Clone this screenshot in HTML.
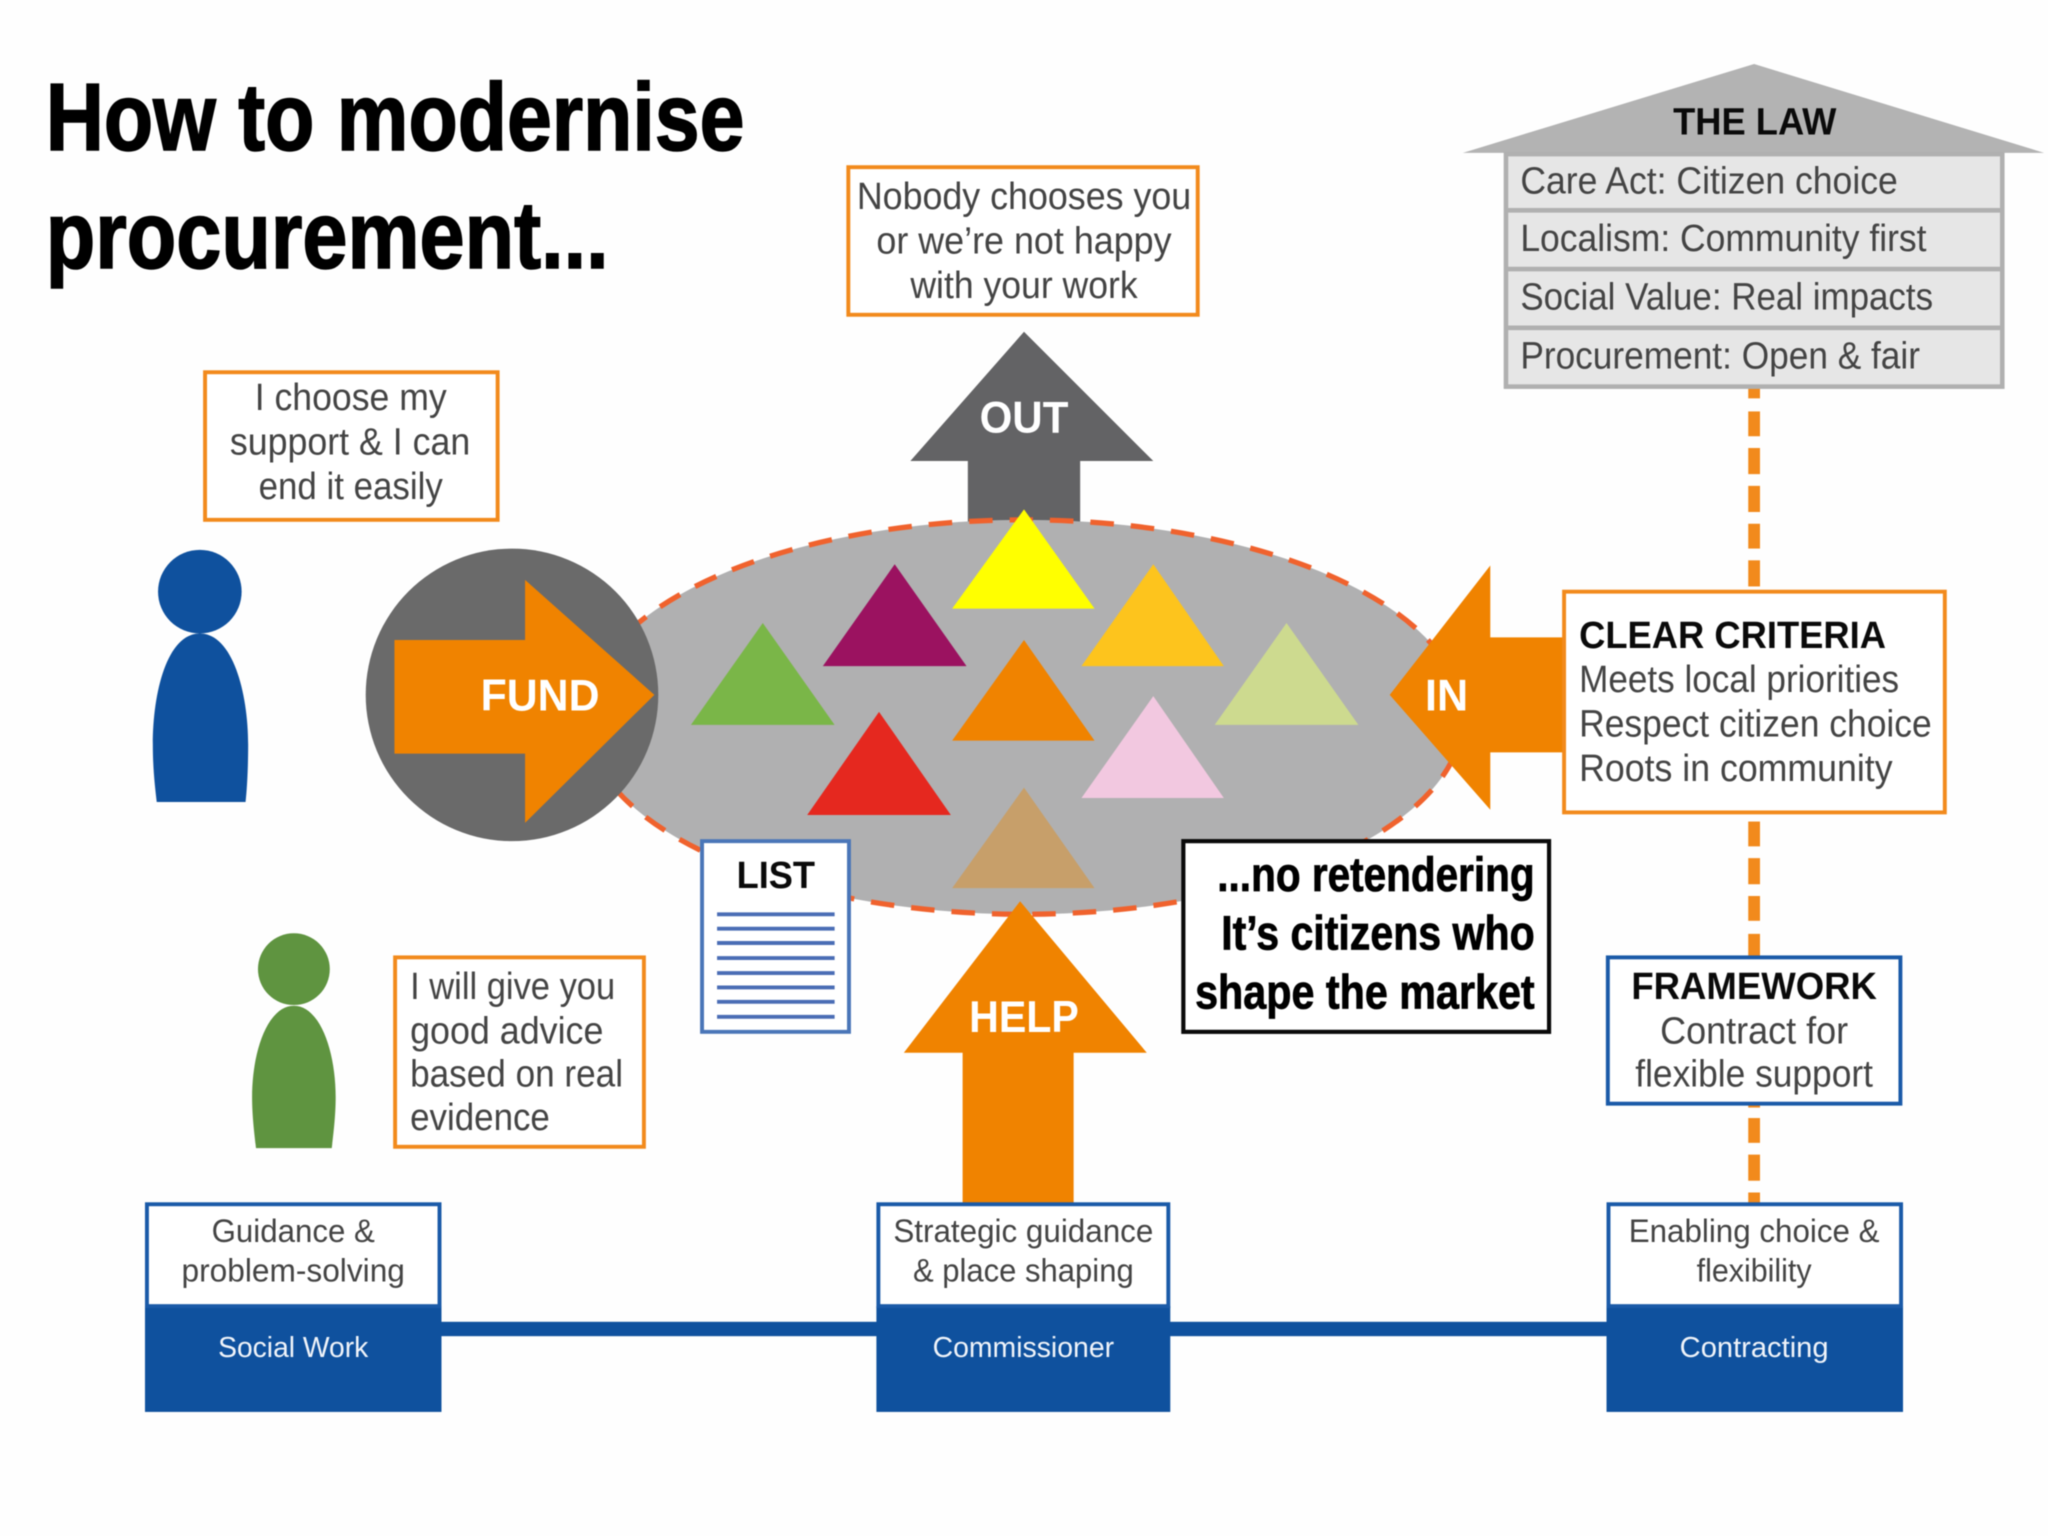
<!DOCTYPE html>
<html lang="en">
<head>
<meta charset="utf-8">
<title>How to modernise procurement</title>
<style>
html,body{margin:0;padding:0;background:#fefefe;width:2048px;height:1536px;overflow:hidden}
svg{display:block;filter:blur(.6px)}
text{font-family:"Liberation Sans",Arial,sans-serif;fill:#444;font-size:29px}
.b{font-weight:bold;fill:#0a0a0a}
.w{font-weight:bold;fill:#fff;font-size:34px}
.t{font-weight:bold;fill:#000;font-size:73px;stroke:#000;stroke-width:1.2}
.r{font-weight:bold;fill:#000;font-size:37px;stroke:#000;stroke-width:.6}
.s{font-size:25px}
.l{font-size:22px;fill:#f0f4fa}
</style>
</head>
<body>
<svg xmlns="http://www.w3.org/2000/svg" width="2048" height="1536" viewBox="0 0 1568 1176">
<rect width="1568" height="1176" fill="#fefefe"/>

<text class="t" x="35" y="115" textLength="535" lengthAdjust="spacingAndGlyphs">How to modernise</text>
<text class="t" x="35" y="205" textLength="431" lengthAdjust="spacingAndGlyphs">procurement...</text>

<!-- dashed connector -->
<g fill="#f28a1c">
<rect x="1338.500" y="296" width="9" height="9"/>
<rect x="1338.500" y="315" width="9" height="19"/>
<rect x="1338.500" y="343" width="9" height="20"/>
<rect x="1338.500" y="372" width="9" height="20"/>
<rect x="1338.500" y="401" width="9" height="19"/>
<rect x="1338.500" y="429" width="9" height="20"/>
<rect x="1338.500" y="629" width="9" height="19"/>
<rect x="1338.500" y="657" width="9" height="20"/>
<rect x="1338.500" y="686" width="9" height="19"/>
<rect x="1338.500" y="715" width="9" height="19"/>
<rect x="1338.500" y="845" width="9" height="3"/>
<rect x="1338.500" y="856" width="9" height="19"/>
<rect x="1338.500" y="884" width="9" height="20"/>
<rect x="1338.500" y="913" width="9" height="9"/>
</g>

<!-- The Law -->
<polygon points="1343,49 1120,117 1565,117" fill="#b3b3b3"/>
<text class="b" x="1281" y="103" textLength="125" lengthAdjust="spacingAndGlyphs">THE LAW</text>
<rect x="1153" y="118" width="380" height="178" fill="#e6e6e6" stroke="#b0b0b0" stroke-width="3.500"/>
<g stroke="#b0b0b0" stroke-width="3.500">
<line x1="1153" y1="161" x2="1533" y2="161"/>
<line x1="1153" y1="206" x2="1533" y2="206"/>
<line x1="1153" y1="251" x2="1533" y2="251"/>
</g>
<text x="1164" y="148" textLength="289" lengthAdjust="spacingAndGlyphs">Care Act: Citizen choice</text>
<text x="1164" y="192" textLength="311" lengthAdjust="spacingAndGlyphs">Localism: Community first</text>
<text x="1164" y="237" textLength="316" lengthAdjust="spacingAndGlyphs">Social Value: Real impacts</text>
<text x="1164" y="282" textLength="306" lengthAdjust="spacingAndGlyphs">Procurement: Open &amp; fair</text>

<!-- Nobody -->
<rect x="649.500" y="128" width="267.500" height="113" fill="#fff" stroke="#f28a1c" stroke-width="3"/>
<text x="656" y="160" textLength="256" lengthAdjust="spacingAndGlyphs">Nobody chooses you</text>
<text x="671" y="194" textLength="226" lengthAdjust="spacingAndGlyphs">or we’re not happy</text>
<text x="697" y="228" textLength="174" lengthAdjust="spacingAndGlyphs">with your work</text>

<!-- I choose -->
<rect x="157" y="285" width="224" height="113" fill="#fff" stroke="#f28a1c" stroke-width="3"/>
<text x="195" y="314" textLength="147" lengthAdjust="spacingAndGlyphs">I choose my</text>
<text x="176" y="348" textLength="184" lengthAdjust="spacingAndGlyphs">support &amp; I can</text>
<text x="198" y="382" textLength="141" lengthAdjust="spacingAndGlyphs">end it easily</text>

<!-- OUT arrow -->
<polygon points="784,254 883,353 827,353 827,410 741,410 741,353 697,353" fill="#636365"/>

<!-- ellipse -->
<ellipse cx="784" cy="549" rx="336" ry="151" fill="#b0b0b1" stroke="#f0622d" stroke-width="4" stroke-dasharray="18 13"/>

<!-- triangles -->
<polygon points="784,390 729,466 838,466" fill="#ffff00"/>
<polygon points="685,432 630,510 740,510" fill="#9b1260"/>
<polygon points="584,477 529,555 639,555" fill="#7ab648"/>
<polygon points="883,432 828,510 937,510" fill="#fdc41d"/>
<polygon points="985,477 930,555 1040,555" fill="#cdda8f"/>
<polygon points="784,490 729,567 838,567" fill="#f08300"/>
<polygon points="673,545 618,624 728,624" fill="#e5281f"/>
<polygon points="883,533 828,611 937,611" fill="#f2c8e0"/>
<polygon points="784,603 729,680 838,680" fill="#c79f6a"/>

<text class="w" x="750" y="331" textLength="68" lengthAdjust="spacingAndGlyphs">OUT</text>

<!-- blue person -->
<ellipse cx="153" cy="453" rx="32" ry="32" fill="#0f519e"/>
<path d="M153 485C128 485 117 530 117 570C117 590 119 605 120 614L188 614C189 605 190 590 190 570C190 530 178 485 153 485Z" fill="#0f519e"/>

<!-- FUND -->
<circle cx="392" cy="532" r="112" fill="#6a6a6a"/>
<polygon points="302,490 402,490 402,444 501,532 402,630 402,577 302,577" fill="#f08300"/>
<text class="w" x="368" y="544" textLength="91" lengthAdjust="spacingAndGlyphs">FUND</text>

<!-- IN -->
<polygon points="1064,532 1141,433 1141,488 1200,488 1200,576 1141,576 1141,620" fill="#f08300"/>
<text class="w" x="1091" y="544" textLength="33" lengthAdjust="spacingAndGlyphs">IN</text>

<!-- criteria -->
<rect x="1197.500" y="453" width="291.500" height="169" fill="#fff" stroke="#f28a1c" stroke-width="3"/>
<text class="b" x="1209" y="496" textLength="235" lengthAdjust="spacingAndGlyphs">CLEAR CRITERIA</text>
<text x="1209" y="530" textLength="245" lengthAdjust="spacingAndGlyphs">Meets local priorities</text>
<text x="1209" y="564" textLength="270" lengthAdjust="spacingAndGlyphs">Respect citizen choice</text>
<text x="1209" y="598" textLength="240" lengthAdjust="spacingAndGlyphs">Roots in community</text>

<!-- LIST -->
<rect x="537.500" y="644" width="112.500" height="146" fill="#fff" stroke="#4a76b8" stroke-width="3"/>
<text class="b" x="564" y="680" textLength="60" lengthAdjust="spacingAndGlyphs">LIST</text>
<g stroke="#4a6db5" stroke-width="3">
<line x1="549" y1="700" x2="639" y2="700"/>
<line x1="549" y1="711" x2="639" y2="711"/>
<line x1="549" y1="722" x2="639" y2="722"/>
<line x1="549" y1="733.500" x2="639" y2="733.500"/>
<line x1="549" y1="745" x2="639" y2="745"/>
<line x1="549" y1="756" x2="639" y2="756"/>
<line x1="549" y1="767" x2="639" y2="767"/>
<line x1="549" y1="778.500" x2="639" y2="778.500"/>
</g>

<!-- HELP -->
<polygon points="781,690 878,806 822,806 822,922 737,922 737,806 692,806" fill="#f08300"/>
<text class="w" x="742" y="790" textLength="84" lengthAdjust="spacingAndGlyphs">HELP</text>

<!-- no retendering -->
<rect x="906" y="644" width="280" height="146" fill="#fff" stroke="#0a0a0a" stroke-width="3.200"/>
<text class="r" x="932" y="682" textLength="243" lengthAdjust="spacingAndGlyphs">...no retendering</text>
<text class="r" x="935" y="727" textLength="240" lengthAdjust="spacingAndGlyphs">It’s citizens who</text>
<text class="r" x="915" y="772" textLength="260" lengthAdjust="spacingAndGlyphs">shape the market</text>

<!-- green person -->
<ellipse cx="225" cy="742" rx="27.500" ry="27.500" fill="#5f9440"/>
<path d="M225 770C205 770 193 805 193 840C193 855 195 870 196 879L254 879C255 870 257 855 257 840C257 805 245 770 225 770Z" fill="#5f9440"/>

<!-- I will -->
<rect x="302.500" y="733" width="190.500" height="145" fill="#fff" stroke="#f28a1c" stroke-width="3"/>
<text x="314" y="765" textLength="157" lengthAdjust="spacingAndGlyphs">I will give you</text>
<text x="314" y="799" textLength="148" lengthAdjust="spacingAndGlyphs">good advice</text>
<text x="314" y="832" textLength="163" lengthAdjust="spacingAndGlyphs">based on real</text>
<text x="314" y="865" textLength="107" lengthAdjust="spacingAndGlyphs">evidence</text>

<!-- Framework -->
<rect x="1231" y="733" width="224" height="112" fill="#fff" stroke="#1a5aa8" stroke-width="3"/>
<text class="b" x="1249" y="765" textLength="188" lengthAdjust="spacingAndGlyphs">FRAMEWORK</text>
<text x="1271" y="799" textLength="144" lengthAdjust="spacingAndGlyphs">Contract for</text>
<text x="1252" y="832" textLength="182" lengthAdjust="spacingAndGlyphs">flexible support</text>

<!-- bottom bar -->
<rect x="337" y="1012" width="895" height="11" fill="#0f519e"/>

<g fill="#0f519e">
<rect x="111" y="1000" width="227" height="81"/>
<rect x="671" y="1000" width="225" height="81"/>
<rect x="1230" y="1000" width="227" height="81"/>
</g>
<g fill="#fff" stroke="#1a5aa8" stroke-width="3">
<rect x="112.500" y="922" width="224" height="78"/>
<rect x="672.500" y="922" width="222" height="78"/>
<rect x="1231.500" y="922" width="224" height="78"/>
</g>
<text class="s" x="162" y="951" textLength="125" lengthAdjust="spacingAndGlyphs">Guidance &amp;</text>
<text class="s" x="139" y="981" textLength="171" lengthAdjust="spacingAndGlyphs">problem-solving</text>
<text class="s" x="684" y="951" textLength="199" lengthAdjust="spacingAndGlyphs">Strategic guidance</text>
<text class="s" x="699" y="981" textLength="169" lengthAdjust="spacingAndGlyphs">&amp; place shaping</text>
<text class="s" x="1247" y="951" textLength="192" lengthAdjust="spacingAndGlyphs">Enabling choice &amp;</text>
<text class="s" x="1299" y="981" textLength="88" lengthAdjust="spacingAndGlyphs">flexibility</text>
<text class="l" x="167" y="1039" textLength="115" lengthAdjust="spacingAndGlyphs">Social Work</text>
<text class="l" x="714" y="1039" textLength="139" lengthAdjust="spacingAndGlyphs">Commissioner</text>
<text class="l" x="1286" y="1039" textLength="114" lengthAdjust="spacingAndGlyphs">Contracting</text>
</svg>
</body>
</html>
